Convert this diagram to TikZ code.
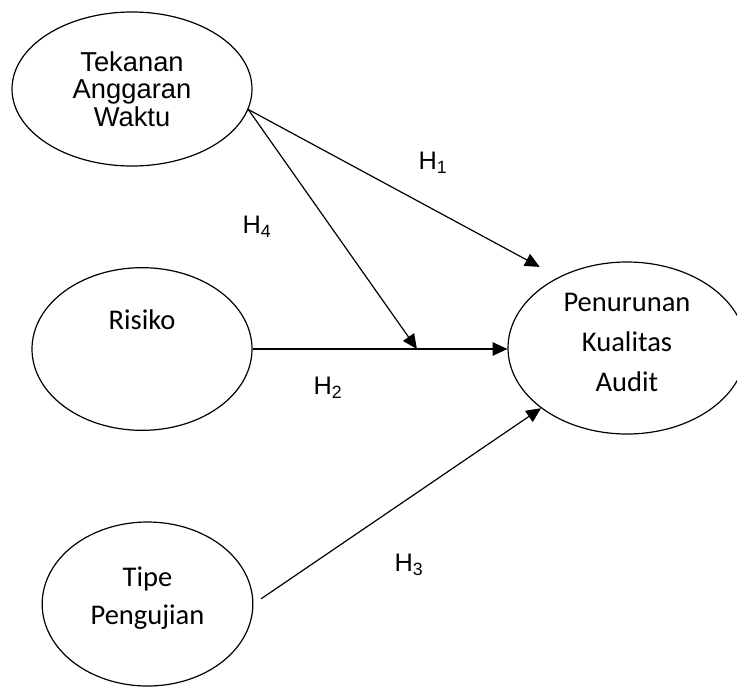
\documentclass[tikz,border=0pt]{standalone}
\usepackage{fontspec}
\newfontfamily\arial{Liberation Sans}
\newfontfamily\calibri{Carlito}
\usetikzlibrary{shapes,arrows.meta,positioning,calc}

\begin{document}
\begin{tikzpicture}[x=0.75pt, y=-0.75pt,
  var/.style={draw, ellipse, line width=0.9pt, inner sep=0pt, align=center},
  teks/.style={font=\calibri\fontsize{21.4}{#1}\selectfont, align=center},
  panah/.style={line width=0.9pt, -{Triangle[length=11pt,width=10pt]}},
  hip/.style={font=\arial\fontsize{19}{21}\selectfont}]
\useasboundingbox (0,0) rectangle (737,689);

% variabel
\node[var, minimum width=180pt, minimum height=115.5pt, font=\arial\fontsize{20.5}{20.6}\selectfont] (tekanan) at (132,89) {Tekanan\\Anggaran\\Waktu};
\node[var, minimum width=165pt, minimum height=122pt, label={[teks=28pt, yshift=22pt]center:Risiko}] (risiko) at (142,349) {};
\node[var, minimum width=158pt, minimum height=123pt, label={[teks=28pt, yshift=4.5pt]center:Tipe\\Pengujian}] (tipe) at (147.5,604) {};
\node[var, minimum width=178.5pt, minimum height=129pt, label={[teks=30pt, yshift=4pt]center:Penurunan\\Kualitas\\Audit}] (penurunan) at (627,348) {};

% titik moderasi
\coordinate (moderasi) at ($(risiko.east)!0.645!(risiko.east -| penurunan.west)$);

% hubungan
\draw[panah, shorten >=16pt] (tekanan.-10) -- (penurunan.134);
\draw[panah] (tekanan.-10) -- (moderasi);
\draw[panah] (risiko.east) -- (risiko.east -| penurunan.west);
\draw[panah, shorten <=7pt] (tipe.east) -- (penurunan.215.5);

% hipotesis
\node[hip] (h1) at (433,163) {H\textsubscript{1}};
\node[hip] (h4) at (257,227) {H\textsubscript{4}};
\node[hip] (h2) at (328,388) {H\textsubscript{2}};
\node[hip] (h3) at (409,565) {H\textsubscript{3}};
\end{tikzpicture}
\end{document}
